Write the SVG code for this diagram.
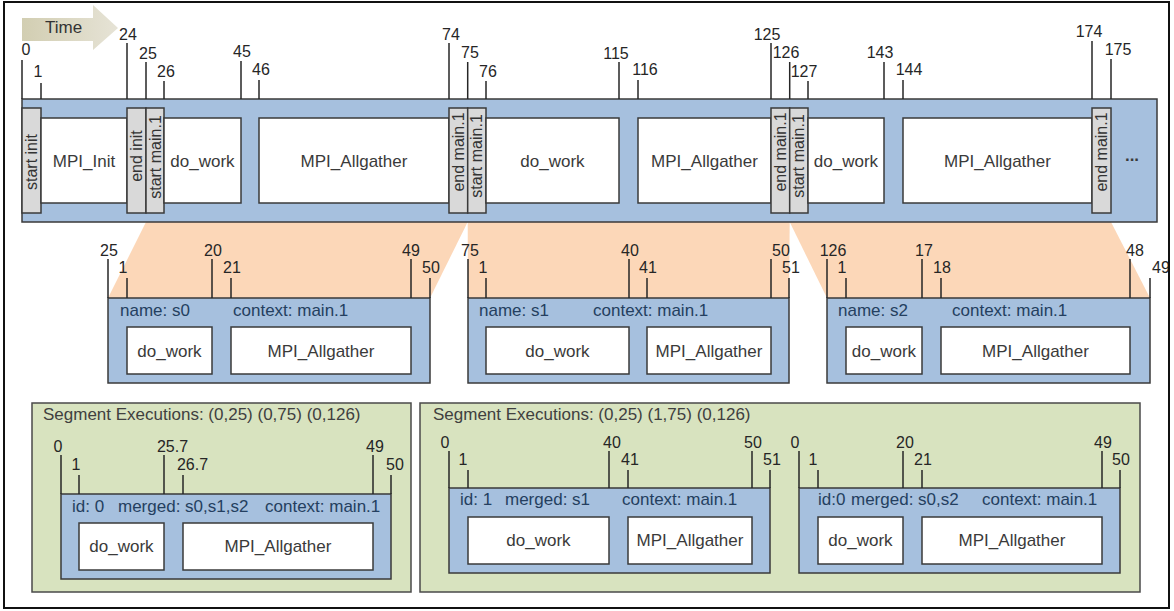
<svg xmlns="http://www.w3.org/2000/svg" width="1174" height="611" viewBox="0 0 1174 611">
<style>
text{font-family:"Liberation Sans",Arial,sans-serif}
.band{fill:#a6c0de;stroke:#3a3a3a;stroke-width:1.5}
.wbox{fill:#fff;stroke:#3a3a3a;stroke-width:1.5}
.gbox{fill:#d9d9d9;stroke:#3a3a3a;stroke-width:1.5}
.green{fill:#d8e3bf;stroke:#4a4a4a;stroke-width:1.5}
.zoom{fill:#fcd7b8}
.tick{stroke:#262626;stroke-width:1.5}
.lbl{font-size:17px;fill:#3a3a3a;text-anchor:middle}
.num{font-size:16px;fill:#262626;text-anchor:middle}
.meta{font-size:17px;fill:#243f60}
.seg{font-size:17px;fill:#404040}
.rot{font-size:16px;fill:#333;text-anchor:middle}
</style>
<defs>
<linearGradient id="tg" x1="0" y1="0" x2="1" y2="0">
<stop offset="0" stop-color="#d2ceb2"/>
<stop offset="1" stop-color="#e6e3d6"/>
</linearGradient>
</defs>
<rect x="0" y="0" width="1174" height="611" fill="#fff"/>

<g id="time-arrow">
<polygon points="22,18 93,18 93,5 118,28 93,50 93,41 22,41" fill="url(#tg)"/>
<text x="45" y="33" style="font-size:17px;fill:#333">Time</text>
</g>

<g id="connectors">
<polygon class="zoom" points="146,222 467.7,222 430,298 108,298"/>
<polygon class="zoom" points="467.7,222 789.7,222 789,298 468,298"/>
<polygon class="zoom" points="789.7,222 1111,222 1150,298 827,298"/>
</g>

<g id="timeline">
<rect class="band" x="22" y="99" width="1135" height="123"/>
<g id="start-init"><rect class="gbox" x="22" y="108" width="19" height="105"/><text class="rot" transform="translate(31.5,162) rotate(-90)" dy="0.35em">start init</text></g>
<g id="mpi-init"><rect class="wbox" x="41" y="118" width="86" height="85"/><text class="lbl" x="84" y="167">MPI_Init</text></g>
<g id="end-init"><rect class="gbox" x="127" y="108" width="19" height="105"/><text class="rot" transform="translate(136.5,156) rotate(-90)" dy="0.35em">end init</text></g>
<g id="start-main-a"><rect class="gbox" x="146" y="108" width="18" height="105"/><text class="rot" transform="translate(155,157) rotate(-90)" dy="0.35em">start main.1</text></g>
<g id="do-work-a"><rect class="wbox" x="164" y="118" width="77" height="85"/><text class="lbl" x="202.5" y="167">do_work</text></g>
<g id="allgather-a"><rect class="wbox" x="259" y="118" width="190" height="85"/><text class="lbl" x="354" y="167">MPI_Allgather</text></g>
<g id="end-main-a"><rect class="gbox" x="449" y="108" width="18.7" height="105"/><text class="rot" transform="translate(458.3,152) rotate(-90)" dy="0.35em">end main.1</text></g>
<g id="start-main-b"><rect class="gbox" x="467.7" y="108" width="18.3" height="105"/><text class="rot" transform="translate(476.8,156) rotate(-90)" dy="0.35em">start main.1</text></g>
<g id="do-work-b"><rect class="wbox" x="486" y="118" width="133" height="85"/><text class="lbl" x="552.5" y="167">do_work</text></g>
<g id="allgather-b"><rect class="wbox" x="638" y="118" width="133" height="85"/><text class="lbl" x="704.5" y="167">MPI_Allgather</text></g>
<g id="end-main-b"><rect class="gbox" x="771" y="108" width="18.7" height="105"/><text class="rot" transform="translate(780.3,152) rotate(-90)" dy="0.35em">end main.1</text></g>
<g id="start-main-c"><rect class="gbox" x="789.7" y="108" width="18.3" height="105"/><text class="rot" transform="translate(798.8,156) rotate(-90)" dy="0.35em">start main.1</text></g>
<g id="do-work-c"><rect class="wbox" x="808" y="118" width="76" height="85"/><text class="lbl" x="846" y="167">do_work</text></g>
<g id="allgather-c"><rect class="wbox" x="903" y="118" width="189" height="85"/><text class="lbl" x="997.5" y="167">MPI_Allgather</text></g>
<g id="end-main-c"><rect class="gbox" x="1092" y="108" width="19" height="105"/><text class="rot" transform="translate(1101.5,152) rotate(-90)" dy="0.35em">end main.1</text></g>
<text class="lbl" x="1132" y="161" style="font-weight:bold">...</text>
</g>

<g id="timeline-ticks">
<line class="tick" x1="22" y1="60" x2="22" y2="99"/><text class="num" x="26" y="55">0</text>
<line class="tick" x1="41" y1="83" x2="41" y2="99"/><text class="num" x="38" y="77">1</text>
<line class="tick" x1="127" y1="43" x2="127" y2="99"/><text class="num" x="128" y="40">24</text>
<line class="tick" x1="146" y1="62" x2="146" y2="99"/><text class="num" x="148" y="59">25</text>
<line class="tick" x1="164" y1="81" x2="164" y2="99"/><text class="num" x="166" y="77">26</text>
<line class="tick" x1="241" y1="61" x2="241" y2="99"/><text class="num" x="242" y="57">45</text>
<line class="tick" x1="259" y1="80" x2="259" y2="99"/><text class="num" x="261" y="75">46</text>
<line class="tick" x1="449" y1="43" x2="449" y2="99"/><text class="num" x="451" y="40">74</text>
<line class="tick" x1="467.7" y1="62" x2="467.7" y2="99"/><text class="num" x="470" y="58">75</text>
<line class="tick" x1="486" y1="81" x2="486" y2="99"/><text class="num" x="488" y="77">76</text>
<line class="tick" x1="619" y1="62" x2="619" y2="99"/><text class="num" x="616" y="59">115</text>
<line class="tick" x1="638" y1="80" x2="638" y2="99"/><text class="num" x="645" y="75">116</text>
<line class="tick" x1="771" y1="43" x2="771" y2="99"/><text class="num" x="767" y="40">125</text>
<line class="tick" x1="789.7" y1="62" x2="789.7" y2="99"/><text class="num" x="786" y="58">126</text>
<line class="tick" x1="808" y1="81" x2="808" y2="99"/><text class="num" x="804" y="77">127</text>
<line class="tick" x1="884" y1="62" x2="884" y2="99"/><text class="num" x="880" y="58">143</text>
<line class="tick" x1="903" y1="80" x2="903" y2="99"/><text class="num" x="909" y="75">144</text>
<line class="tick" x1="1092" y1="41" x2="1092" y2="99"/><text class="num" x="1089" y="37">174</text>
<line class="tick" x1="1111" y1="59" x2="1111" y2="99"/><text class="num" x="1118" y="55">175</text>
</g>

<g id="segment-s0">
<rect class="band" x="108" y="298" width="322" height="85"/>
<text class="meta" x="120" y="316">name: s0</text>
<text class="meta" x="233" y="316">context: main.1</text>
<rect class="wbox" x="127" y="327" width="85" height="47"/><text class="lbl" x="169.5" y="357">do_work</text>
<rect class="wbox" x="231" y="327" width="180" height="47"/><text class="lbl" x="321" y="357">MPI_Allgather</text>
<line class="tick" x1="108" y1="259" x2="108" y2="298"/><text class="num" x="109" y="256">25</text>
<line class="tick" x1="127" y1="278" x2="127" y2="298"/><text class="num" x="123" y="273">1</text>
<line class="tick" x1="212" y1="259" x2="212" y2="298"/><text class="num" x="213" y="256">20</text>
<line class="tick" x1="231" y1="278" x2="231" y2="298"/><text class="num" x="232" y="273">21</text>
<line class="tick" x1="411" y1="259" x2="411" y2="298"/><text class="num" x="411" y="256">49</text>
<line class="tick" x1="430" y1="278" x2="430" y2="298"/><text class="num" x="431" y="273">50</text>
</g>

<g id="segment-s1">
<rect class="band" x="468" y="298" width="321" height="85"/>
<text class="meta" x="479" y="316">name: s1</text>
<text class="meta" x="593" y="316">context: main.1</text>
<rect class="wbox" x="486" y="327" width="143" height="47"/><text class="lbl" x="557.5" y="357">do_work</text>
<rect class="wbox" x="647" y="327" width="124" height="47"/><text class="lbl" x="709" y="357">MPI_Allgather</text>
<line class="tick" x1="468" y1="259" x2="468" y2="298"/><text class="num" x="470" y="256">75</text>
<line class="tick" x1="486" y1="278" x2="486" y2="298"/><text class="num" x="483" y="273">1</text>
<line class="tick" x1="629" y1="259" x2="629" y2="298"/><text class="num" x="630" y="256">40</text>
<line class="tick" x1="647" y1="278" x2="647" y2="298"/><text class="num" x="648" y="273">41</text>
<line class="tick" x1="771" y1="259" x2="771" y2="298"/><text class="num" x="781" y="256">50</text>
<line class="tick" x1="789" y1="278" x2="789" y2="298"/><text class="num" x="791" y="273">51</text>
</g>

<g id="segment-s2">
<rect class="band" x="827" y="298" width="323" height="85"/>
<text class="meta" x="838" y="316">name: s2</text>
<text class="meta" x="952" y="316">context: main.1</text>
<rect class="wbox" x="846" y="327" width="76" height="47"/><text class="lbl" x="884" y="357">do_work</text>
<rect class="wbox" x="941" y="327" width="189" height="47"/><text class="lbl" x="1035.5" y="357">MPI_Allgather</text>
<line class="tick" x1="827" y1="259" x2="827" y2="298"/><text class="num" x="833" y="256">126</text>
<line class="tick" x1="846" y1="278" x2="846" y2="298"/><text class="num" x="842" y="273">1</text>
<line class="tick" x1="922" y1="259" x2="922" y2="298"/><text class="num" x="924" y="256">17</text>
<line class="tick" x1="941" y1="278" x2="941" y2="298"/><text class="num" x="942" y="273">18</text>
<line class="tick" x1="1130" y1="259" x2="1130" y2="298"/><text class="num" x="1135" y="256">48</text>
<line class="tick" x1="1150" y1="278" x2="1150" y2="298"/><text class="num" x="1161" y="273">49</text>
</g>

<g id="executions-a">
<rect class="green" x="32" y="403" width="379" height="189"/>
<text class="seg" x="43" y="420">Segment Executions: (0,25) (0,75) (0,126)</text>
<rect class="band" x="61" y="494" width="330" height="85"/>
<text class="meta" x="72" y="512">id: 0</text>
<text class="meta" x="118" y="512">merged: s0,s1,s2</text>
<text class="meta" x="265" y="512">context: main.1</text>
<rect class="wbox" x="79" y="523" width="85" height="47"/><text class="lbl" x="121.5" y="552">do_work</text>
<rect class="wbox" x="183" y="523" width="190" height="47"/><text class="lbl" x="278" y="552">MPI_Allgather</text>
<line class="tick" x1="61" y1="455" x2="61" y2="494"/><text class="num" x="58" y="452">0</text>
<line class="tick" x1="79" y1="475" x2="79" y2="494"/><text class="num" x="76" y="470">1</text>
<line class="tick" x1="164" y1="455" x2="164" y2="494"/><text class="num" x="172.5" y="452">25.7</text>
<line class="tick" x1="183" y1="475" x2="183" y2="494"/><text class="num" x="192.5" y="470">26.7</text>
<line class="tick" x1="373" y1="455" x2="373" y2="494"/><text class="num" x="375" y="452">49</text>
<line class="tick" x1="391" y1="475" x2="391" y2="494"/><text class="num" x="395" y="470">50</text>
</g>

<g id="executions-b">
<rect class="green" x="420" y="403" width="720" height="189"/>
<text class="seg" x="433" y="420">Segment Executions: (0,25) (1,75) (0,126)</text>
<g id="exec-id1">
<rect class="band" x="449" y="488" width="321" height="85"/>
<text class="meta" x="460" y="505">id: 1</text>
<text class="meta" x="505" y="505">merged: s1</text>
<text class="meta" x="622" y="505">context: main.1</text>
<rect class="wbox" x="468" y="517" width="141" height="47"/><text class="lbl" x="538.5" y="546">do_work</text>
<rect class="wbox" x="628" y="517" width="124" height="47"/><text class="lbl" x="690" y="546">MPI_Allgather</text>
<line class="tick" x1="449" y1="451" x2="449" y2="488"/><text class="num" x="445" y="448">0</text>
<line class="tick" x1="468" y1="470" x2="468" y2="488"/><text class="num" x="463" y="465">1</text>
<line class="tick" x1="609" y1="451" x2="609" y2="488"/><text class="num" x="612" y="448">40</text>
<line class="tick" x1="628" y1="470" x2="628" y2="488"/><text class="num" x="630" y="465">41</text>
<line class="tick" x1="752" y1="451" x2="752" y2="488"/><text class="num" x="753" y="448">50</text>
<line class="tick" x1="770" y1="470" x2="770" y2="488"/><text class="num" x="772" y="465">51</text>
</g>
<g id="exec-id0">
<rect class="band" x="799" y="488" width="321" height="85"/>
<text class="meta" x="818" y="505">id:0</text>
<text class="meta" x="851" y="505">merged: s0,s2</text>
<text class="meta" x="982" y="505">context: main.1</text>
<rect class="wbox" x="818" y="517" width="85" height="47"/><text class="lbl" x="860.5" y="546">do_work</text>
<rect class="wbox" x="922" y="517" width="180" height="47"/><text class="lbl" x="1012" y="546">MPI_Allgather</text>
<line class="tick" x1="799" y1="451" x2="799" y2="488"/><text class="num" x="795" y="448">0</text>
<line class="tick" x1="818" y1="470" x2="818" y2="488"/><text class="num" x="813" y="465">1</text>
<line class="tick" x1="903" y1="451" x2="903" y2="488"/><text class="num" x="905" y="448">20</text>
<line class="tick" x1="922" y1="470" x2="922" y2="488"/><text class="num" x="923" y="465">21</text>
<line class="tick" x1="1102" y1="451" x2="1102" y2="488"/><text class="num" x="1103" y="448">49</text>
<line class="tick" x1="1120" y1="470" x2="1120" y2="488"/><text class="num" x="1121" y="465">50</text>
</g>
</g>

<rect id="frame" x="4" y="2" width="1165" height="606" fill="none" stroke="#111" stroke-width="2"/>
</svg>
